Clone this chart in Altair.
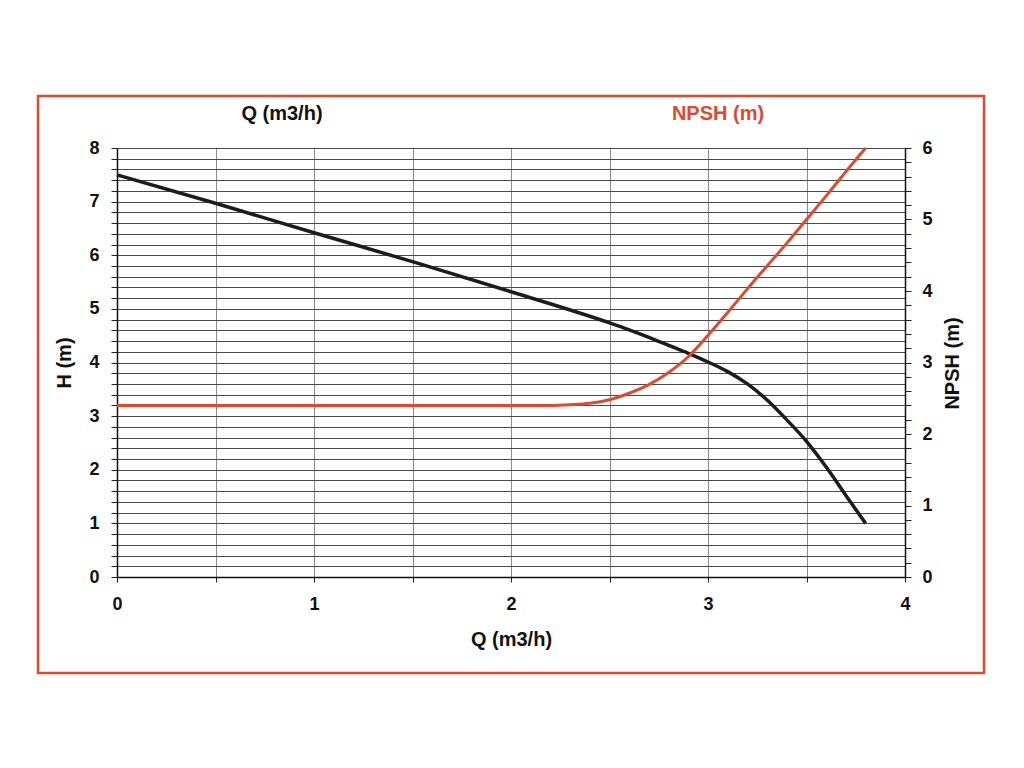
import altair as alt
import pandas as pd

# Pump curve H(Q)
q_h = [0, 0.5, 1.0, 1.5, 2.0, 2.5, 2.6, 2.7, 2.8, 2.9, 3.0, 3.1, 3.2, 3.3, 3.4, 3.5, 3.6, 3.7, 3.8]
h_vals = [7.5, 6.97, 6.42, 5.88, 5.32, 4.74, 4.61, 4.47, 4.32, 4.17, 4.01, 3.83, 3.60, 3.30, 2.93, 2.53, 2.05, 1.52, 1.0]

# NPSH curve
q_n = [0, 1.0, 2.0, 2.2, 2.3, 2.4, 2.5, 2.6, 2.7, 2.8, 2.9, 3.0, 3.1, 3.2, 3.3, 3.4, 3.5, 3.6, 3.7, 3.8]
npsh_vals = [2.4, 2.4, 2.4, 2.4, 2.41, 2.43, 2.48, 2.57, 2.69, 2.86, 3.08, 3.38, 3.70, 4.03, 4.35, 4.67, 5.0, 5.33, 5.67, 6.0]

x_ticks = [i * 0.5 for i in range(9)]
h_ticks = [round(i * 0.2, 1) for i in range(41)]
n_ticks = [round(i * 0.2, 1) for i in range(31)]

RED = "#dc4a30"
FONT = "Liberation Sans"
INT_LABEL = "datum.value % 1 === 0 ? format(datum.value, 'd') : ''"

df_h = pd.DataFrame({"Q": q_h, "H": h_vals})
df_n = pd.DataFrame({"Q": q_n, "NPSH": npsh_vals})
one = pd.DataFrame({"a": [0]})

x_enc = alt.X(
    "Q:Q",
    scale=alt.Scale(domain=[0, 4], nice=False),
    axis=alt.Axis(
        values=x_ticks,
        labelExpr=INT_LABEL,
        labelFlush=False,
        labelOverlap=False,
        title="Q (m3/h)",
        grid=True,
        gridColor="#8a8a8a",
        gridWidth=1,
        tickSize=5,
        tickColor="#222",
        domainColor="#111",
        domainWidth=1.5,
        labelPadding=13,
        titlePadding=16,
    ),
)

h_line = alt.Chart(df_h).mark_line(color="#1c1c1c", strokeWidth=3.5, interpolate="monotone").encode(
    x=x_enc,
    y=alt.Y(
        "H:Q",
        scale=alt.Scale(domain=[0, 8], nice=False),
        axis=alt.Axis(
            orient="left",
            values=h_ticks,
            labelExpr=INT_LABEL,
            labelOverlap=False,
            labelFlush=False,
            title="H (m)",
            grid=True,
            gridColor="#4a4a4a",
            gridWidth=1,
            tickSize=6,
            tickColor="#222",
            domainColor="#111",
            domainWidth=1.5,
            labelPadding=12,
            titlePadding=14,
        ),
    ),
)

n_line = alt.Chart(df_n).mark_line(color=RED, strokeWidth=3, interpolate="monotone").encode(
    x=alt.X("Q:Q"),
    y=alt.Y(
        "NPSH:Q",
        scale=alt.Scale(domain=[0, 6], nice=False),
        axis=alt.Axis(
            orient="right",
            values=n_ticks,
            labelExpr=INT_LABEL,
            labelOverlap=False,
            labelFlush=False,
            title="NPSH (m)",
            titleAngle=270,
            titleX=47,
            titleY=215,
            titleAlign="center",
            titleBaseline="middle",
            grid=False,
            tickSize=6,
            tickColor="#222",
            domainColor="#111",
            domainWidth=1.5,
            labelPadding=11,
        ),
    ),
)

top_q = alt.Chart(one).mark_text(text="Q (m3/h)", font=FONT, fontSize=20, fontWeight="bold", color="#111").encode(
    x=alt.value(165), y=alt.value(-34)
)
top_n = alt.Chart(one).mark_text(text="NPSH (m)", font=FONT, fontSize=20, fontWeight="bold", color=RED).encode(
    x=alt.value(601), y=alt.value(-34)
)
border = alt.Chart(one).mark_rect(filled=False, stroke=RED, strokeWidth=2.5).encode(
    x=alt.value(-79), x2=alt.value(867), y=alt.value(-52), y2=alt.value(525)
)

chart = (
    alt.layer(h_line, n_line, top_q, top_n, border)
    .resolve_scale(y="independent")
    .properties(width=788, height=429, padding={"left": 28, "top": 86, "right": 5, "bottom": 5})
    .configure_view(strokeWidth=0)
    .configure_axis(
        labelFont=FONT,
        labelFontSize=18,
        labelFontWeight="bold",
        labelColor="#111",
        titleFont=FONT,
        titleFontSize=20,
        titleFontWeight="bold",
        titleColor="#111",
    )
)

chart.save("out.html", embed_options={"renderer": "svg", "actions": False})
